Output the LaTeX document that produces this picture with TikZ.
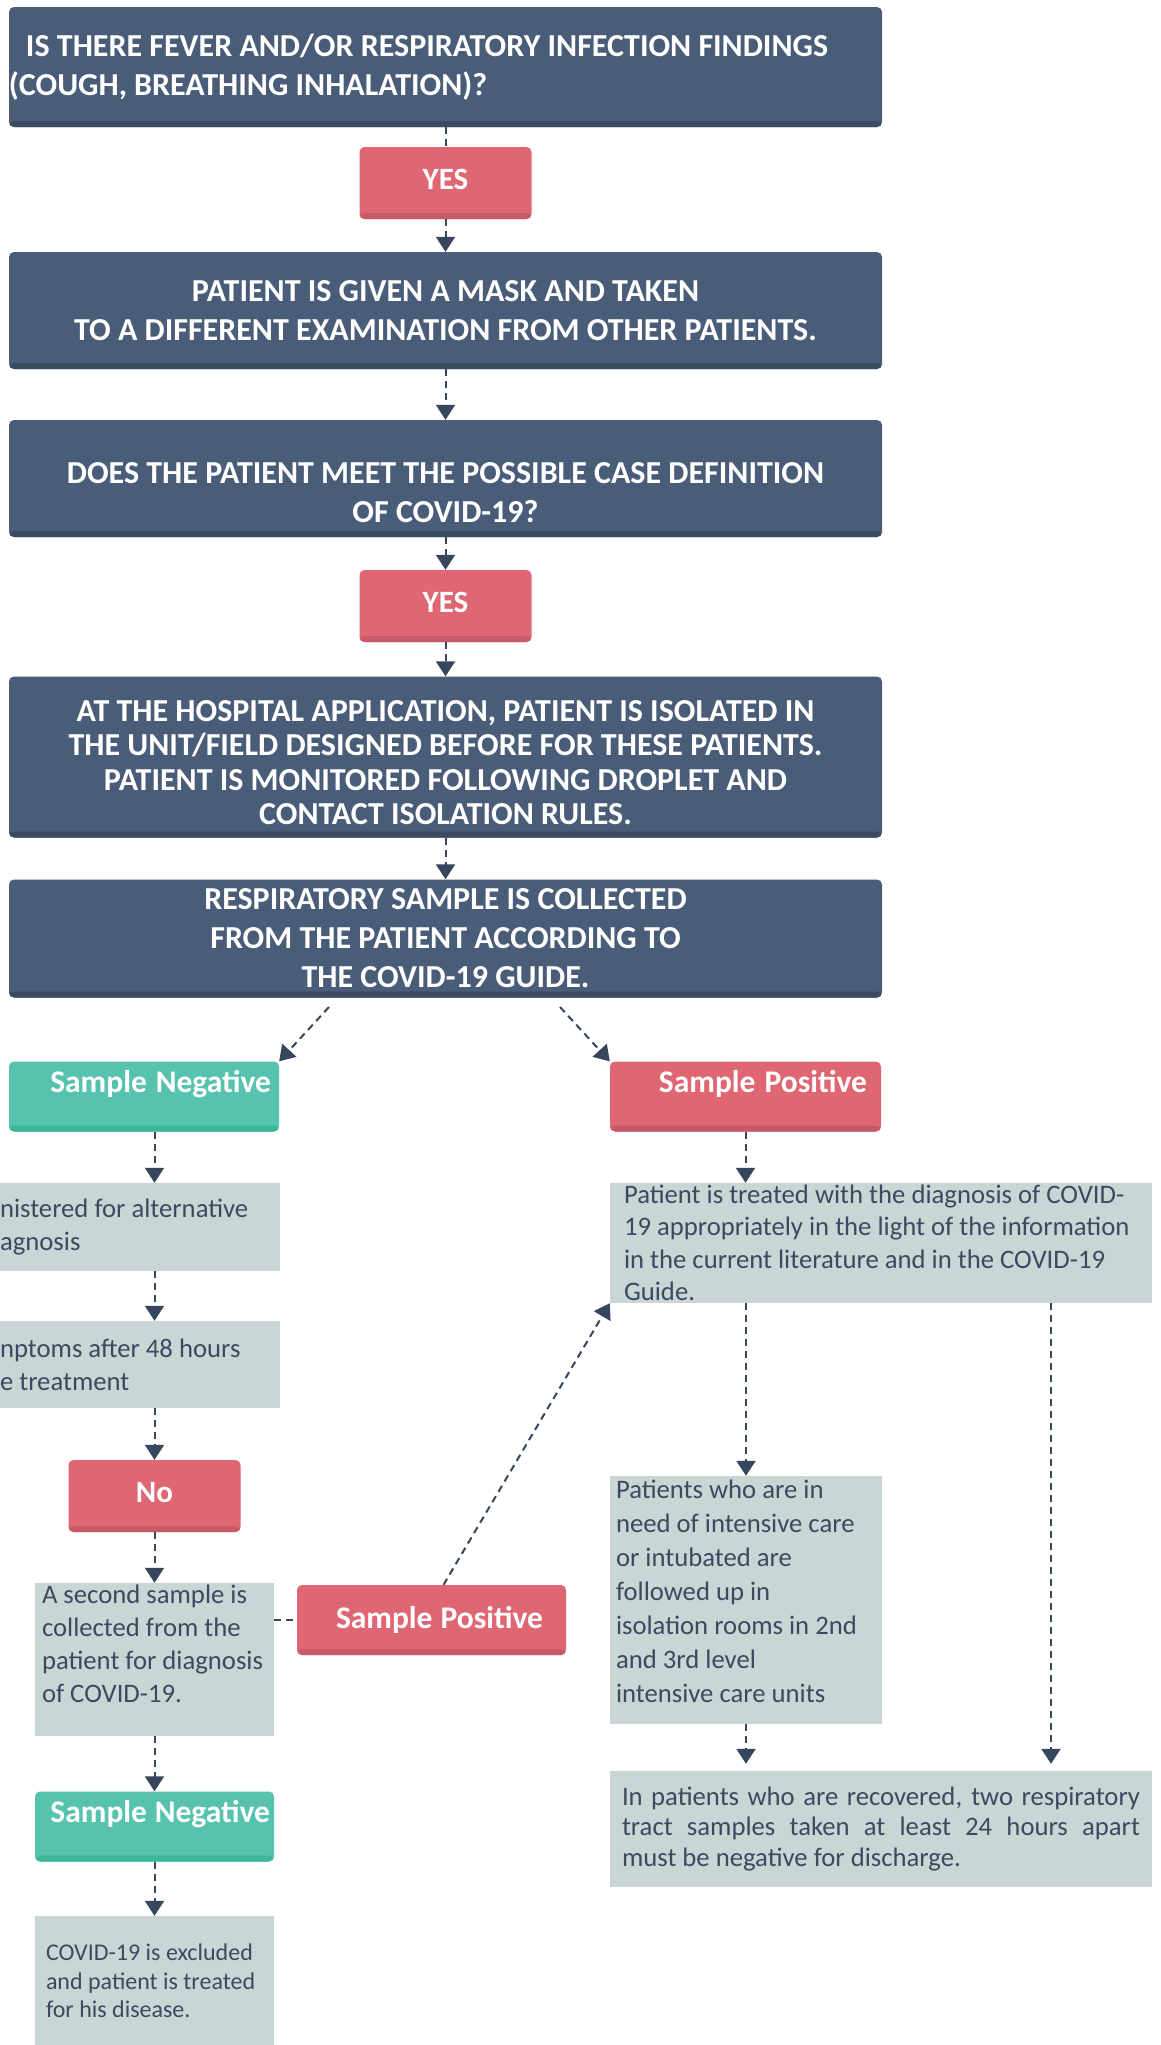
\documentclass[tikz,border=0pt]{standalone}
\usepackage{fontspec}
\setmainfont{Carlito}
\usetikzlibrary{arrows.meta}

\definecolor{slate}{HTML}{4A5D78}
\definecolor{slateedge}{HTML}{3A4A61}
\definecolor{rose}{HTML}{DF6673}
\definecolor{roseedge}{HTML}{C75A66}
\definecolor{mint}{HTML}{57C2AE}
\definecolor{mintedge}{HTML}{3BB698}
\definecolor{mist}{HTML}{CAD5D5}
\definecolor{ink}{HTML}{3B4A5E}
\definecolor{wire}{HTML}{36465C}

\begin{document}
\begin{tikzpicture}[x=1pt,y=-1pt,
  natural/.style={execute at begin node={\spaceskip=0pt\xspaceskip=0pt}},
  edged/.style={path picture={\fill[#1] ([yshift=6pt]path picture bounding box.south west)
    rectangle (path picture bounding box.south east);}},
  questionbox/.style={natural,rectangle,rounded corners=5pt,fill=slate,edged=slateedge,text=white,
    inner sep=0pt,align=center,minimum width=873pt,font=\bfseries\fontsize{32}{39}\selectfont},
  yesbox/.style={rectangle,rounded corners=5pt,fill=rose,edged=roseedge,text=white,
    inner sep=0pt,minimum width=172pt,minimum height=72pt,text height=20pt,text depth=8pt,
    font=\bfseries\fontsize{31}{37}\selectfont},
  resultbox/.style={natural,rectangle,rounded corners=5pt,text=white,inner ysep=0pt,align=right,
    minimum height=70pt,text height=22pt,text depth=30pt,font=\bfseries\fontsize{31.5}{37}\selectfont},
  posbox/.style={resultbox,fill=rose,edged=roseedge},
  negbox/.style={resultbox,fill=mint,edged=mintedge},
  notebox/.style={natural,rectangle,fill=mist,text=ink,inner ysep=0pt,align=left,
    font=\fontsize{26.7}{33}\selectfont},
  flow/.style={draw=wire,line width=2pt,dash pattern=on 7pt off 5pt},
  flowarrow/.style={flow,-{Triangle[width=19pt,length=15pt]}}
]
  \path[use as bounding box,fill=white] (0,0) rectangle (1161,2045);

  % main column
  \node[questionbox,minimum height=120pt,text width=873pt,align=left] (fever) at (445.5,67)
    {\hspace*{17pt}IS THERE FEVER AND/OR RESPIRATORY INFECTION FINDINGS\\(COUGH, BREATHING INHALATION)?};
  \node[yesbox] (yes1) at (445.5,183) {YES};
  \node[questionbox,minimum height=117pt] (mask) at (445.5,310.5)
    {PATIENT IS GIVEN A MASK AND TAKEN\\TO A DIFFERENT EXAMINATION FROM OTHER PATIENTS.};
  \node[questionbox,minimum height=117pt,text height=88pt,text depth=0pt] (casedef) at (445.5,478.5)
    {DOES THE PATIENT MEET THE POSSIBLE CASE DEFINITION\\OF COVID-19?};
  \node[yesbox] (yes2) at (445.5,606) {YES};
  \node[questionbox,minimum height=161pt,text height=135pt,text depth=0pt,
    font=\bfseries\fontsize{32}{34.5}\selectfont] (isolate) at (445.5,757)
    {AT THE HOSPITAL APPLICATION, PATIENT IS ISOLATED IN\\THE UNIT/FIELD DESIGNED BEFORE FOR THESE PATIENTS.\\
     PATIENT IS MONITORED FOLLOWING DROPLET AND\\CONTACT ISOLATION RULES.};
  \node[questionbox,minimum height=118pt] (sample) at (445.5,938.5)
    {RESPIRATORY SAMPLE IS COLLECTED\\FROM THE PATIENT ACCORDING TO\\THE COVID-19 GUIDE.};

  % negative branch
  \node[negbox,text width=254pt,inner xsep=8pt] (neg1) at (144,1096.5) {Sample Negative};
  \node[notebox,text width=280pt,inner xsep=0pt,minimum height=88pt] (alt) at (140,1227)
    {nistered for alternative\\agnosis};
  \node[notebox,text width=280pt,inner xsep=0pt,minimum height=87pt] (symptoms) at (140,1364.5)
    {nptoms after 48 hours\\e treatment};
  \node[yesbox] (no) at (154.5,1496) {No};
  \node[notebox,text width=225pt,inner xsep=7pt,minimum height=153pt,text height=20pt,text depth=132pt]
    (second) at (154.5,1659.5) {A second sample is\\collected from the\\patient for diagnosis\\of COVID-19.};
  \node[posbox,text width=223pt,inner xsep=23pt,text depth=6pt] (pos2) at (431.5,1620) {Sample Positive};
  \node[negbox,text width=231pt,inner xsep=4pt] (neg2) at (154.5,1826.5) {Sample Negative};
  \node[notebox,text width=217pt,inner xsep=11pt,minimum height=130pt,
    font=\fontsize{24}{28.5}\selectfont] (excluded) at (154.5,1981)
    {COVID-19 is excluded\\and patient is treated\\for his disease.};

  % positive branch
  \node[posbox,text width=243pt,inner xsep=14pt] (pos1) at (745.5,1096.5) {Sample Positive};
  \node[notebox,text width=514pt,inner xsep=14pt,minimum height=120pt,
    font=\fontsize{26.7}{32.5}\selectfont] (treated) at (881,1243)
    {Patient is treated with the diagnosis of COVID-\\19 appropriately in the light of the information\\
     in the current literature and in the COVID-19\\Guide.};
  \node[notebox,text width=260pt,inner xsep=6pt,minimum height=248pt,text height=20pt,text depth=224pt,
    font=\fontsize{26.7}{34}\selectfont] (icu) at (746,1600)
    {Patients who are in\\need of intensive care\\or intubated are\\followed up in\\
     isolation rooms in 2nd\\and 3rd level\\intensive care units};
  \node[notebox,text width=518pt,inner xsep=12pt,minimum height=116pt,align=justify,
    font=\fontsize{26.7}{30.5}\selectfont] (recovered) at (881,1829)
    {In patients who are recovered, two respiratory\linebreak
     tract samples taken at least 24 hours apart\linebreak must be negative for discharge.};

  \coordinate (lstart) at (329,1007);
  \coordinate (rstart) at (560,1007);
  \coordinate (farcol) at (1051,1300);

  \draw[flow] (fever) -- (yes1);
  \draw[flowarrow] (yes1) -- (mask);
  \draw[flowarrow] (mask) -- (casedef);
  \draw[flowarrow] (casedef) -- (yes2);
  \draw[flowarrow] (yes2) -- (isolate);
  \draw[flowarrow] (isolate) -- (sample);
  \draw[flowarrow] (lstart) -- (neg1.north east);
  \draw[flowarrow] (rstart) -- (pos1.north west);

  \draw[flowarrow] (neg1.south -| no.north) -- (alt.north -| no.north);
  \draw[flowarrow] (alt.south -| no.north) -- (symptoms.north -| no.north);
  \draw[flowarrow] (symptoms.south -| no.north) -- (no);
  \draw[flowarrow] (no) -- (second);
  \draw[flowarrow] (second) -- (neg2);
  \draw[flowarrow] (neg2) -- (excluded);
  \draw[flow] (second.east |- pos2.west) -- (pos2.west);
  \draw[flowarrow] ([xshift=12pt]pos2.north) -- (treated.south west);

  \draw[flowarrow] (pos1) -- (pos1.south |- treated.north);
  \draw[flowarrow] (treated.south -| icu.north) -- (icu);
  \draw[flowarrow,shorten >=7pt] (icu) -- (recovered.north -| icu.south);
  \draw[flowarrow,shorten >=7pt] (treated.south -| farcol) -- (recovered.north -| farcol);
\end{tikzpicture}
\end{document}
